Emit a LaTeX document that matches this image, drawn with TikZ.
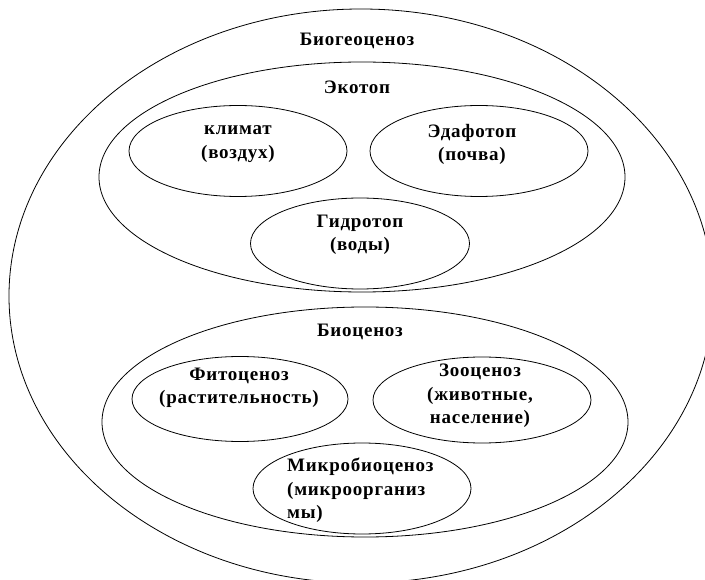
\documentclass[tikz,border=0pt]{standalone}
\usepackage{fontspec}
\setmainfont{Liberation Serif}[LetterSpace=4]
\usetikzlibrary{shapes.geometric}
\tikzset{
  ring/.style={ellipse, draw=black, line width=0.8pt, inner sep=0pt, minimum width=#1},
  lbl/.style={font=\fontsize{19}{23.5}\selectfont\bfseries, inner sep=0pt, align=center}
}
\begin{document}
\begin{tikzpicture}[x=1pt, y=-1pt]
\useasboundingbox (0,0) rectangle (705,580);
\clip (0,0) rectangle (705,580);
\fill[white] (0,0) rectangle (705,580);
% ellipses
\node[ring=704pt, minimum height=574pt] (bgc) at (361,296) {};
\node[ring=526pt, minimum height=230pt] (eko) at (362,177) {};
\node[ring=218pt, minimum height=91pt] (kli) at (238,151) {};
\node[ring=218pt, minimum height=91pt] (eda) at (479,151) {};
\node[ring=219pt, minimum height=91pt] (gid) at (360,243.5) {};
\node[ring=526pt, minimum height=230pt] (bio) at (365,422) {};
\node[ring=216pt, minimum height=85pt] (fit) at (240,399) {};
\node[ring=218pt, minimum height=86pt] (zoo) at (482,400) {};
\node[ring=218pt, minimum height=91pt] (mik) at (362,488.5) {};
% labels
\node[lbl] (tbgc) at (357,41) {Биогеоценоз};
\node[lbl] (teko) at (357,87) {Экотоп};
\node[lbl] (tkli) at (238,144) {климат\\(воздух)};
\node[lbl] (teda) at (472,144.5) {Эдафотоп\\(почва)};
\node[lbl] (tgid) at (360,235) {Гидротоп\\(воды)};
\node[lbl] (tbio) at (360,332) {Биоценоз};
\node[lbl] (tfit) at (239,388) {Фитоценоз\\(растительность)};
\node[lbl] (tzoo) at (480,396) {Зооценоз\\(животные,\\население)};
\node[lbl, align=left, anchor=west] (tmik) at (287,490.5) {Микробиоценоз\\(микроорганиз\\мы)};
\end{tikzpicture}
\end{document}
